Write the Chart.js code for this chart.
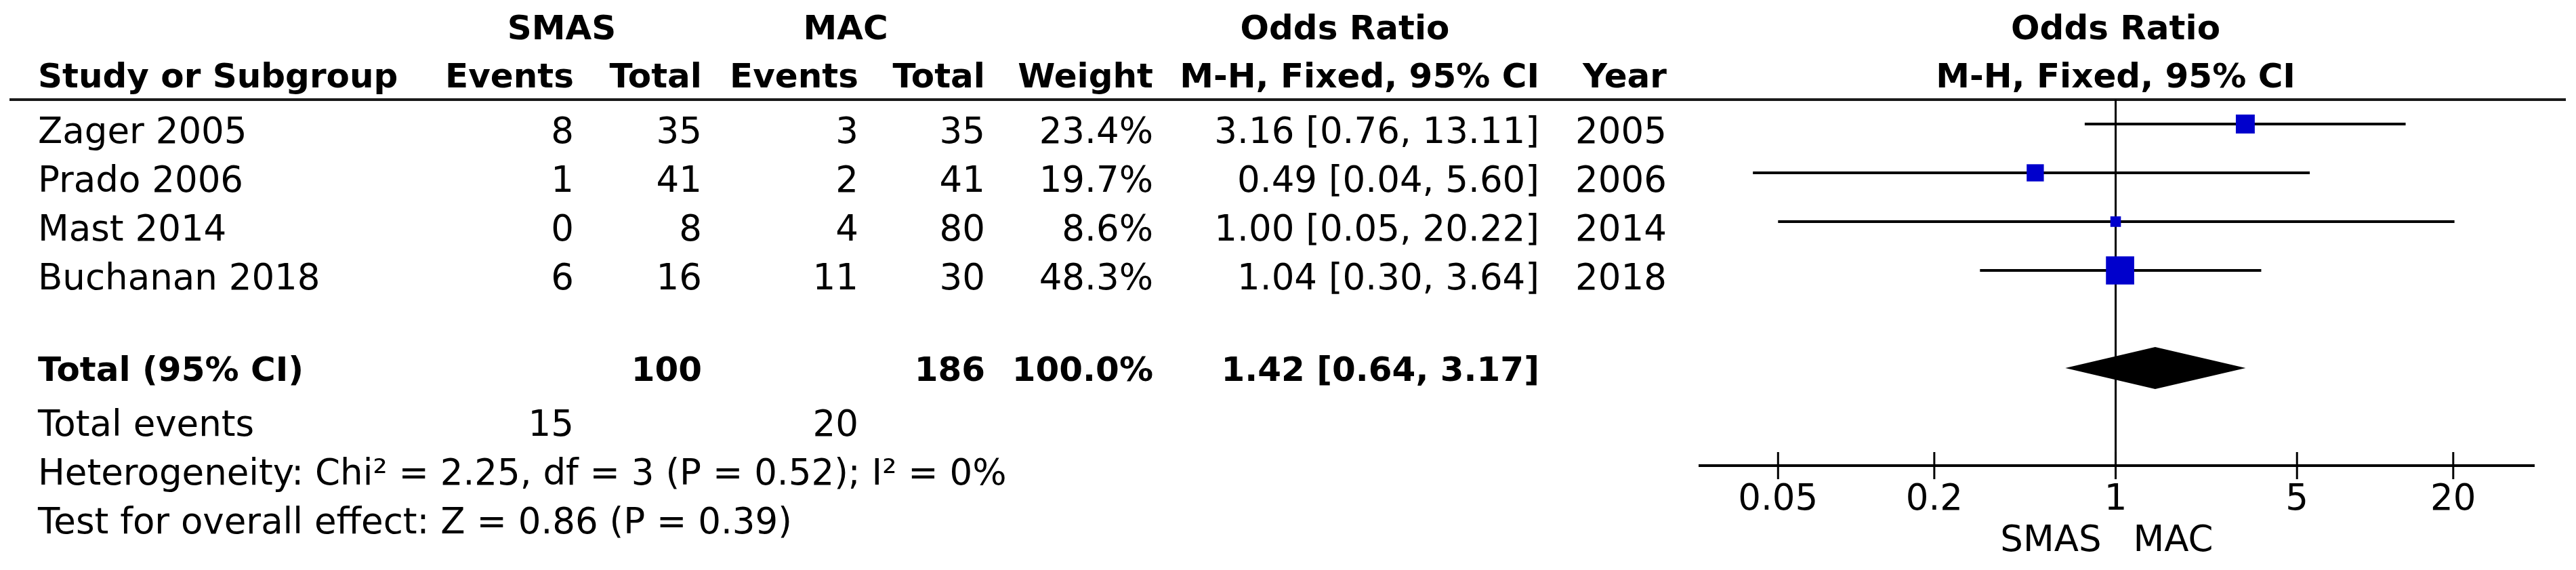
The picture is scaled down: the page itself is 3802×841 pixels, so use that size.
<!DOCTYPE html>
<html>
<head>
<meta charset="utf-8">
<title>Forest plot: SMAS vs MAC</title>
<script src="https://cdn.jsdelivr.net/npm/chart.js@4.4.1/dist/chart.umd.min.js"></script>
<style>
    html, body { margin: 0; padding: 0; background: #fff; }
    canvas { display: block; }
</style>
</head>
<body>
<canvas id="forest-chart" width="3802" height="841"></canvas>
<script>
// Study data
const studies = ['Zager 2005', 'Prado 2006', 'Mast 2014', 'Buchanan 2018'];
const smasEvents = [8, 1, 0, 6];
const smasTotal = [35, 41, 8, 16];
const macEvents = [3, 2, 4, 11];
const macTotal = [35, 41, 80, 30];
const weights = [23.4, 19.7, 8.6, 48.3];
const oddsRatio = [3.16, 0.49, 1.00, 1.04];
const ciLower = [0.76, 0.04, 0.05, 0.30];
const ciUpper = [13.11, 5.60, 20.22, 3.64];
const years = [2005, 2006, 2014, 2018];

// Pooled result
const totalSmas = 100;
const totalMac = 186;
const totalWeight = 100.0;
const totalOR = 1.42;
const totalLower = 0.64;
const totalUpper = 3.17;
const totalEventsSmas = 15;
const totalEventsMac = 20;
const chi2 = 2.25, df = 3, pHet = 0.52, i2 = 0;
const zValue = 0.86, pOverall = 0.39;

// Axis
const xTicks = [0.05, 0.2, 1, 5, 20];
const xTickLabels = ['0.05', '0.2', '1', '5', '20'];
const favoursLeft = 'SMAS';
const favoursRight = 'MAC';

const FONT = '"DejaVu Sans", Verdana, sans-serif';
const regular = `53px ${FONT}`;
const bold = `bold 50px ${FONT}`;
const TOTAL_ROW = 5;

// right edges of the table columns
const colRight = { smasEv: 847, smasTot: 1036, macEv: 1267, macTot: 1454, weight: 1702, or: 2272, year: 2460 };
const textLeft = 56;

const fmtCI = (est, lo, hi) => `${est.toFixed(2)} [${lo.toFixed(2)}, ${hi.toFixed(2)}]`;

function text(ctx, str, x, y, align, font) {
    ctx.font = font;
    ctx.textAlign = align;
    ctx.fillText(str, x, y);
}

const forestTable = {
    id: 'forestTable',
    beforeDatasetsDraw(chart) {
        const { ctx, chartArea } = chart;
        ctx.save();
        ctx.strokeStyle = '#1a1a1a';
        ctx.lineWidth = 4;
        ctx.beginPath();
        ctx.moveTo(14, chartArea.top);
        ctx.lineTo(3787, chartArea.top);
        ctx.stroke();
        ctx.restore();
    },
    afterDatasetsDraw(chart) {
        const { ctx, scales: { x, y } } = chart;
        // pooled diamond
        ctx.save();
        ctx.fillStyle = '#000';
        ctx.beginPath();
        ctx.moveTo(x.getPixelForValue(totalLower), y.getPixelForValue(TOTAL_ROW));
        ctx.lineTo(x.getPixelForValue(totalOR), y.getPixelForValue(TOTAL_ROW - 0.43));
        ctx.lineTo(x.getPixelForValue(totalUpper), y.getPixelForValue(TOTAL_ROW));
        ctx.lineTo(x.getPixelForValue(totalOR), y.getPixelForValue(TOTAL_ROW + 0.43));
        ctx.closePath();
        ctx.fill();
        ctx.restore();
    },
    afterDraw(chart) {
        const { ctx, chartArea, scales: { x, y } } = chart;
        const axisY = chartArea.bottom;
        const mid = x.getPixelForValue(1);
        ctx.save();
        ctx.fillStyle = '#000';
        ctx.strokeStyle = '#000';
        ctx.textBaseline = 'alphabetic';

        // x axis
        ctx.lineWidth = 4;
        ctx.beginPath();
        ctx.moveTo(chartArea.left, axisY);
        ctx.lineTo(chartArea.right, axisY);
        ctx.stroke();
        ctx.lineWidth = 3;
        xTicks.forEach((v, i) => {
            const px = x.getPixelForValue(v);
            ctx.beginPath();
            ctx.moveTo(px, axisY - 20);
            ctx.lineTo(px, axisY + 20);
            ctx.stroke();
            text(ctx, xTickLabels[i], px, axisY + 65, 'center', regular);
        });
        text(ctx, favoursLeft, mid - 21, axisY + 126, 'right', regular);
        text(ctx, favoursRight, mid + 26, axisY + 126, 'left', regular);

        // headers
        const h1 = 58, h2 = 129;
        text(ctx, 'SMAS', 829, h1, 'center', bold);
        text(ctx, 'MAC', 1248, h1, 'center', bold);
        text(ctx, 'Odds Ratio', 1985, h1, 'center', bold);
        text(ctx, 'Odds Ratio', mid, h1, 'center', bold);
        text(ctx, 'Study or Subgroup', textLeft, h2, 'left', bold);
        text(ctx, 'Events', colRight.smasEv, h2, 'right', bold);
        text(ctx, 'Total', colRight.smasTot, h2, 'right', bold);
        text(ctx, 'Events', colRight.macEv, h2, 'right', bold);
        text(ctx, 'Total', colRight.macTot, h2, 'right', bold);
        text(ctx, 'Weight', colRight.weight, h2, 'right', bold);
        text(ctx, 'M-H, Fixed, 95% CI', colRight.or, h2, 'right', bold);
        text(ctx, 'Year', colRight.year, h2, 'right', bold);
        text(ctx, 'M-H, Fixed, 95% CI', mid, h2, 'center', bold);

        // study rows
        studies.forEach((name, i) => {
            const by = y.getPixelForValue(i) + 28;
            text(ctx, name, textLeft, by, 'left', regular);
            text(ctx, String(smasEvents[i]), colRight.smasEv, by, 'right', regular);
            text(ctx, String(smasTotal[i]), colRight.smasTot, by, 'right', regular);
            text(ctx, String(macEvents[i]), colRight.macEv, by, 'right', regular);
            text(ctx, String(macTotal[i]), colRight.macTot, by, 'right', regular);
            text(ctx, weights[i].toFixed(1) + '%', colRight.weight, by, 'right', regular);
            text(ctx, fmtCI(oddsRatio[i], ciLower[i], ciUpper[i]), colRight.or, by, 'right', regular);
            text(ctx, String(years[i]), colRight.year, by, 'right', regular);
        });

        // total and footer rows
        const tb = y.getPixelForValue(TOTAL_ROW) + 19;
        text(ctx, 'Total (95% CI)', textLeft, tb, 'left', bold);
        text(ctx, String(totalSmas), colRight.smasTot, tb, 'right', bold);
        text(ctx, String(totalMac), colRight.macTot, tb, 'right', bold);
        text(ctx, totalWeight.toFixed(1) + '%', colRight.weight, tb, 'right', bold);
        text(ctx, fmtCI(totalOR, totalLower, totalUpper), colRight.or, tb, 'right', bold);

        text(ctx, 'Total events', textLeft, 643, 'left', regular);
        text(ctx, String(totalEventsSmas), colRight.smasEv, 643, 'right', regular);
        text(ctx, String(totalEventsMac), colRight.macEv, 643, 'right', regular);
        text(ctx, `Heterogeneity: Chi\u00b2 = ${chi2.toFixed(2)}, df = ${df} (P = ${pHet.toFixed(2)}); I\u00b2 = ${i2}%`, textLeft, 715, 'left', regular);
        text(ctx, `Test for overall effect: Z = ${zValue.toFixed(2)} (P = ${pOverall.toFixed(2)})`, textLeft, 787, 'left', regular);
        ctx.restore();
    }
};

const squareData = oddsRatio.map((v, i) => ({ x: v, y: i }));
// marker area grows with study weight
const squareRadius = weights.map(w => (6.5 * Math.sqrt(w) - 3.5) / Math.SQRT2);

const ciDatasets = studies.map((name, i) => ({
    label: name + ' CI',
    data: [{ x: ciLower[i], y: i }, { x: ciUpper[i], y: i }],
    showLine: true,
    borderColor: '#000',
    borderWidth: 4,
    pointRadius: 0,
    order: 2
}));

const ctx = document.getElementById('forest-chart').getContext('2d');
new Chart(ctx, {
    type: 'scatter',
    data: {
        datasets: [
            {
                label: 'Odds ratio',
                data: squareData,
                pointStyle: 'rect',
                pointRadius: squareRadius,
                pointBorderWidth: 0,
                backgroundColor: '#0000cc',
                borderColor: '#0000cc',
                order: 0
            },
            ...ciDatasets,
            {
                label: 'No effect',
                data: [{ x: 1, y: -0.5 }, { x: 1, y: 7 }],
                showLine: true,
                borderColor: '#000',
                borderWidth: 3,
                pointRadius: 0,
                order: 3
            }
        ]
    },
    options: {
        responsive: false,
        animation: false,
        devicePixelRatio: 1,
        events: [],
        layout: { padding: { left: 2507, right: 61, top: 147, bottom: 154 } },
        scales: {
            x: { type: 'logarithmic', min: 0.0247, max: 41.2, display: false },
            y: { type: 'linear', min: -0.5, max: 7, reverse: true, display: false }
        },
        plugins: {
            legend: { display: false },
            tooltip: { enabled: false }
        }
    },
    plugins: [forestTable]
});
</script>
</body>
</html>
